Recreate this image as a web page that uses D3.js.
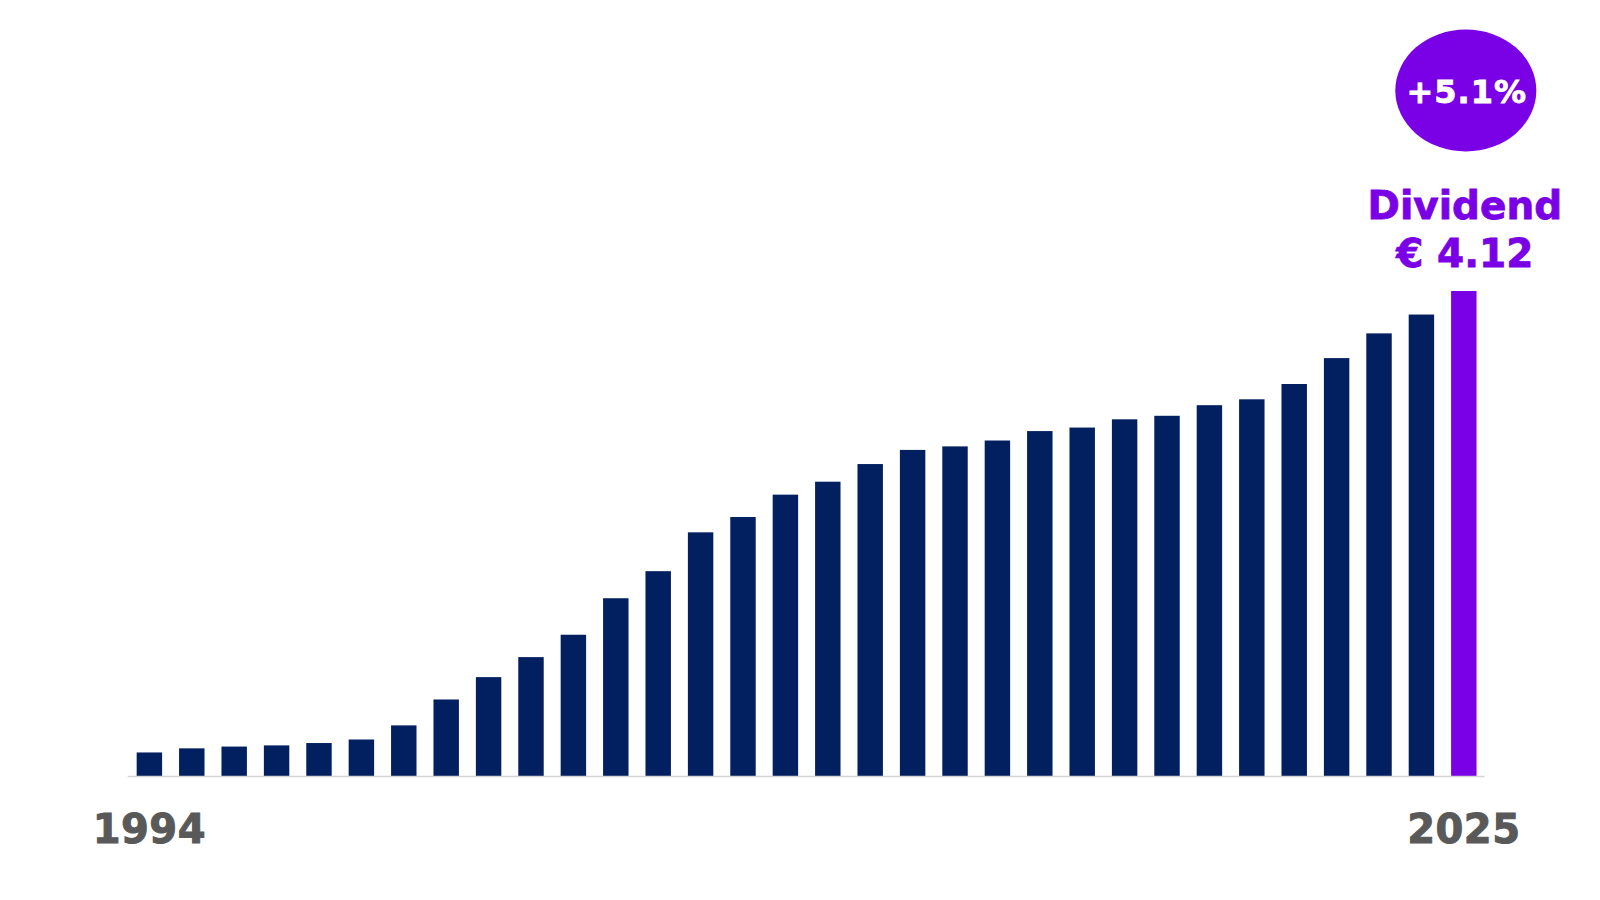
<!DOCTYPE html>
<html>
<head>
<meta charset="utf-8">
<script src="https://cdn.jsdelivr.net/npm/d3@7"></script>
<style>
  html, body { margin: 0; padding: 0; background: #ffffff; }
  svg { display: block; font-family: "DejaVu Sans", Verdana, sans-serif; font-weight: bold; }
</style>
</head>
<body>
<svg id="chart" width="1600" height="900"></svg>
<script>
// Dividend per share, 1994 - 2025 (EUR)
const years = d3.range(1994, 2026);
const dividends = [
  0.20, 0.235, 0.25, 0.26, 0.28, 0.31, 0.43, 0.65, 0.84, 1.01,
  1.20, 1.51, 1.74, 2.07, 2.20, 2.39, 2.50, 2.65, 2.77, 2.80,
  2.85, 2.93, 2.96, 3.03, 3.06, 3.15, 3.20, 3.33, 3.55, 3.76,
  3.92, 4.12
];
const axisLabels = ["1994", "2025"];
const growthLabel = "+5.1%";
const calloutLines = ["Dividend", "€ 4.12"];

const navy = "#022060";
const purple = "#7A00E6";
const grey = "#595959";

const svg = d3.select("#chart");

const chart = {
  left: 119.7,
  right: 1493.5,
  baseline: 776,
  top: 291
};

const x = d3.scaleBand()
  .domain(years)
  .range([chart.left, chart.right])
  .paddingInner(0.4)
  .paddingOuter(0.4);

const y = d3.scaleLinear()
  .domain([0, d3.max(dividends)])
  .range([chart.baseline, chart.top]);

const data = years.map((yr, i) => ({ year: yr, value: dividends[i] }));
const lastYear = years[years.length - 1];

// Bars
svg.append("g")
  .selectAll("rect")
  .data(data)
  .join("rect")
    .attr("x", d => x(d.year))
    .attr("y", d => y(d.value))
    .attr("width", x.bandwidth())
    .attr("height", d => y(0) - y(d.value))
    .attr("fill", d => d.year === lastYear ? purple : navy);

// Baseline
svg.append("line")
  .attr("x1", x(years[0]) - 9)
  .attr("x2", x(lastYear) + x.bandwidth() + 8)
  .attr("y1", y(0) + 0.5)
  .attr("y2", y(0) + 0.5)
  .attr("stroke", "#d4d4d4")
  .attr("stroke-width", 1.5);

// First / last year labels
const endYears = [years[0], lastYear];
svg.append("g")
  .selectAll("text")
  .data(endYears)
  .join("text")
    .attr("x", d => x(d) + x.bandwidth() / 2)
    .attr("y", 843)
    .attr("text-anchor", "middle")
    .attr("font-size", 40)
    .attr("letter-spacing", 0.5)
    .attr("fill", grey)
    .attr("stroke", grey)
    .attr("stroke-width", 1)
    .text((d, i) => axisLabels[i]);

// Callout above the last bar
const cx = x(lastYear) + x.bandwidth() / 2;

svg.append("ellipse")
  .attr("cx", cx + 2)
  .attr("cy", 90.5)
  .attr("rx", 70.5)
  .attr("ry", 61)
  .attr("fill", purple);

svg.append("text")
  .attr("x", cx + 3)
  .attr("y", 103)
  .attr("text-anchor", "middle")
  .attr("font-size", 32)
  .attr("letter-spacing", 1)
  .attr("fill", "#ffffff")
  .attr("stroke", "#ffffff")
  .attr("stroke-width", 0.8)
  .text(growthLabel);

svg.append("g")
  .selectAll("text")
  .data(calloutLines)
  .join("text")
    .attr("x", cx + 1)
    .attr("y", (d, i) => 219 + i * 48)
    .attr("text-anchor", "middle")
    .attr("font-size", 39)
    .attr("fill", purple)
    .attr("stroke", purple)
    .attr("stroke-width", 0.8)
    .text(d => d);
</script>
</body>
</html>
